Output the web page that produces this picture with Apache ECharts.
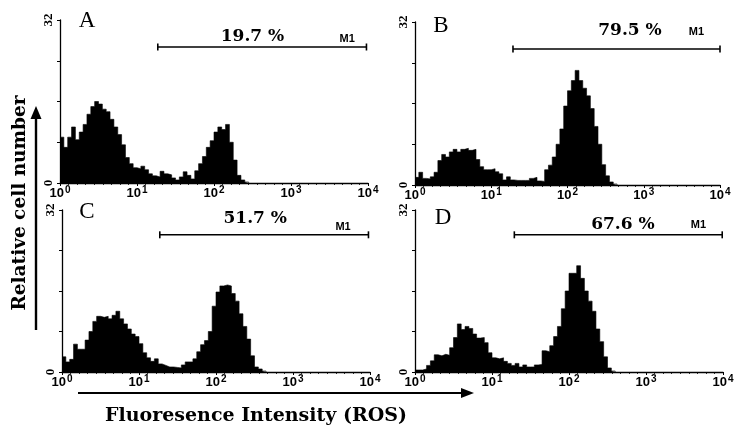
<!DOCTYPE html>
<html><head><meta charset="utf-8">
<script src="https://cdn.jsdelivr.net/npm/echarts@6/dist/echarts.min.js"></script>
<style>html,body{margin:0;padding:0;background:#fff}#c{width:741px;height:425px}</style>
</head><body><div id="c"></div>
<script>
// ---- data ----
const binsPerDecade = 20;           // histogram channels per log decade
const countsA = [9,7,9,11,8.5,10,11.5,13.5,15,16,15.5,14.5,14,12.5,11,9.5,7.5,5,3.8,3,2.8,3.3,2.6,1.8,1.4,1.2,2.3,1.8,1.6,1.0,0.6,1.2,2.2,1.5,0.8,2.4,3.8,5.2,7,8.3,10,11,10.5,11.5,8,4.5,1.5,0.6,0.2,0];
const countsB = [1.5,2.5,1.3,1.2,1.6,2.5,4.8,6,5.5,6.5,7,6.5,7,7.2,6.8,7,5,3.6,3,3,3.2,2.6,2.2,1.0,1.6,1.0,0.9,0.9,0.9,0.9,1.3,1.5,0.8,0.7,3,3.9,5.5,8,11,15.5,18.5,20.5,22.5,20.5,19,17.5,15,11.5,8,4,1.8,0.6,0.2,0];
const countsC = [3,2,2.5,5.5,4.5,4.5,6.3,8,10,11,10.8,11,10.5,11.2,12,10.5,9.5,8.5,7.5,7,5.6,3.8,2.8,2.1,2.6,1.6,1.3,1.0,1.0,0.9,0.8,1.4,2,2,2.6,4,5.4,6.2,8,13,15.8,17,17.2,17,15.5,14,11.5,9,6.5,3.2,1,0.6,0.2,0];
const countsD = [0.4,0.4,0.6,1.3,2.2,3.4,3.2,3.5,3.3,4.8,6.8,9.5,8.4,9,8.6,7.5,6.7,6.8,5.8,3.8,2.8,2.6,2.8,2.1,1.7,1.3,1.7,1.0,1.4,1.0,1.0,1.4,1.5,4.2,4,5.2,7,9,12.5,16,19.5,19.5,21,18.5,16,14,12,8.5,6,3,0.8,0.2,0];
const panelCounts = [countsA, countsB, countsC, countsD];
const panelLetters = ['A', 'B', 'C', 'D'];
const percentLabels = ['19.7 %', '79.5 %', '51.7 %', '67.6 %'];
const gateName = 'M1';
const gateStart = [1.27, 1.285, 1.27, 1.29];   // log10 of fluorescence
const gateEnd = [3.98, 4.0, 3.98, 3.99];
const gateLevel = [26.7, 26.7, 27.1, 27.1];
const xTickExponents = [0, 1, 2, 3, 4];
const yMax = 32, yStep = 8;
const yShownLabels = [0, 32];
const yTitle = 'Relative cell number';
const xTitle = 'Fluoresence Intensity (ROS)';

// ---- layout ----
const grids = [
  {left: 60, top: 20, width: 308, height: 163},
  {left: 415, top: 22, width: 305, height: 163},
  {left: 62, top: 210, width: 308, height: 162},
  {left: 415, top: 210, width: 308, height: 162}
];
const pctPos = [[2.5, 28.8], [2.82, 30.4], [2.51, 30.4], [2.70, 29.2]];
const m1Pos = [[3.73, 28.3], [3.69, 30.1], [3.65, 28.7], [3.68, 29.0]];
const letterPos = [[87, 21], [441, 26], [87, 212], [443, 218]];

const chart = echarts.init(document.getElementById('c'), null, {renderer: 'canvas'});
const xAxes = [], yAxes = [], series = [];
grids.forEach((g, i) => {
  xAxes.push({
    gridIndex: i, type: 'value', min: 0, max: 4, interval: 1,
    axisLine: {lineStyle: {color: '#000', width: 1.3}},
    axisTick: {length: 3, lineStyle: {color: '#000', width: 1}},
    minorTick: {show: true, splitNumber: 9, length: 2, lineStyle: {color: '#000', width: 0.8}},
    splitLine: {show: false},
    axisLabel: {
      margin: 2, color: '#000',
      formatter: v => xTickExponents.includes(v) ? '{a|10}{s|' + v + '}' : '',
      rich: {
        a: {fontSize: 13, fontWeight: 'bold', fontFamily: 'Liberation Sans', color: '#000', lineHeight: 15, verticalAlign: 'bottom'},
        s: {fontSize: 10, fontWeight: 'bold', fontFamily: 'Liberation Sans', color: '#000', lineHeight: 7, verticalAlign: 'top', padding: [0, 0, 0, 1]}
      }
    }
  });
  yAxes.push({
    gridIndex: i, type: 'value', min: 0, max: yMax, interval: yStep,
    axisLine: {show: true, lineStyle: {color: '#000', width: 1.3}},
    axisTick: {show: true, length: 3, lineStyle: {color: '#000', width: 1}},
    splitLine: {show: false},
    axisLabel: {
      rotate: 90, margin: 5, color: '#000', fontSize: 13, fontWeight: 'bold', fontFamily: 'Liberation Serif',
      formatter: v => yShownLabels.includes(v) ? String(v) : ''
    }
  });
  const counts = panelCounts[i];
  series.push({
    type: 'line', xAxisIndex: i, yAxisIndex: i, step: 'end', symbol: 'none',
    data: counts.map((v, k) => [k / binsPerDecade, v]),
    lineStyle: {color: '#000', width: 0.6},
    areaStyle: {color: '#000', opacity: 1},
    silent: true, animation: false
  });
  series.push({
    type: 'line', xAxisIndex: i, yAxisIndex: i,
    data: [[gateStart[i], gateLevel[i]], [gateEnd[i], gateLevel[i]]],
    symbol: 'rect', symbolSize: [1.6, 7],
    itemStyle: {color: '#000'}, lineStyle: {color: '#000', width: 1.6},
    animation: false
  });
  const lbl = (text, fam, size) => ({show: true, position: 'inside', formatter: text,
    fontFamily: fam, fontWeight: 'bold', fontSize: size, color: '#000',
    textBorderWidth: 0, textBorderColor: 'transparent', textShadowBlur: 0, opacity: 1});
  series.push({
    type: 'scatter', xAxisIndex: i, yAxisIndex: i, symbolSize: 0, animation: false,
    itemStyle: {color: '#000', opacity: 1},
    data: [
      {value: pctPos[i], label: lbl(percentLabels[i], 'DejaVu Serif', 17)},
      {value: m1Pos[i], label: lbl(gateName, 'Liberation Sans', 11)}
    ]
  });
});

const graphic = [];
panelLetters.forEach((L, i) => {
  graphic.push({type: 'text', x: letterPos[i][0], y: letterPos[i][1],
    style: {text: L, font: '23px "Liberation Serif"', fill: '#000', align: 'center', verticalAlign: 'middle'}});
});
// y title and arrow
graphic.push({type: 'text', x: 20, y: 203, rotation: Math.PI / 2,
  style: {text: yTitle, font: 'bold 18.5px "DejaVu Serif"', fill: '#000', align: 'center', verticalAlign: 'middle'}});
graphic.push({type: 'line', shape: {x1: 36, y1: 330, x2: 36, y2: 116}, style: {stroke: '#000', lineWidth: 2.4}});
graphic.push({type: 'polygon', shape: {points: [[36, 106], [30.5, 119], [41.5, 119]]}, style: {fill: '#000'}});
// x title and arrow
graphic.push({type: 'text', x: 256, y: 416,
  style: {text: xTitle, font: 'bold 19px "DejaVu Serif"', fill: '#000', align: 'center', verticalAlign: 'middle'}});
graphic.push({type: 'line', shape: {x1: 78, y1: 393, x2: 463, y2: 393}, style: {stroke: '#000', lineWidth: 2.2}});
graphic.push({type: 'polygon', shape: {points: [[474, 393], [461, 388], [461, 398]]}, style: {fill: '#000'}});

chart.setOption({
  animation: false,
  backgroundColor: '#fff',
  grid: grids,
  xAxis: xAxes,
  yAxis: yAxes,
  series: series,
  graphic: graphic
});
</script></body></html>
